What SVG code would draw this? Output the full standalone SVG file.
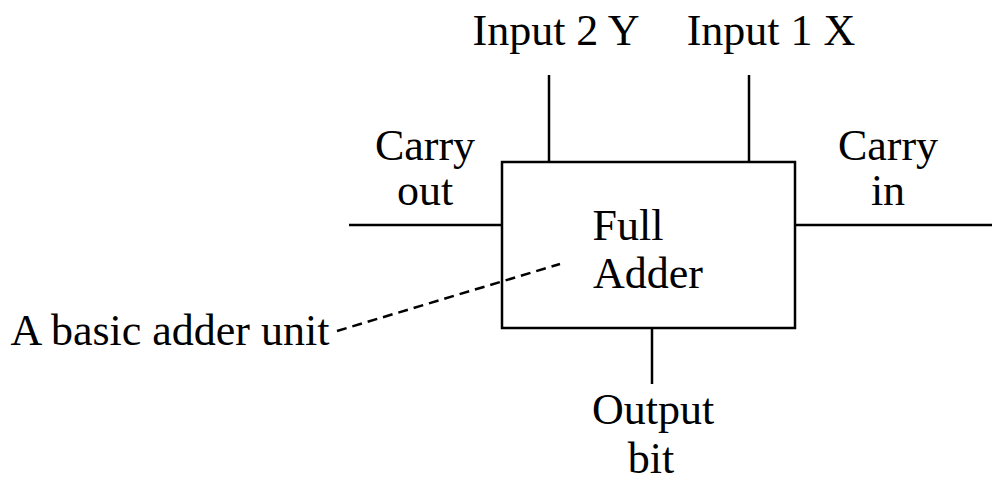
<svg xmlns="http://www.w3.org/2000/svg" width="992" height="482" viewBox="0 0 992 482">
<style>
.t{font-family:"Liberation Serif","Times New Roman",serif;font-size:44px;fill:#000;text-anchor:middle}
.l{stroke:#000;stroke-width:2.5;fill:none}
</style>
<rect width="992" height="482" fill="#fff"/>
<g id="full-adder">
<rect x="502" y="162" width="293" height="166" class="l"/>
<text class="t" x="628" y="240">Full</text>
<text class="t" x="648" y="288">Adder</text>
</g>
<g id="input2"><text class="t" x="556" y="45">Input 2 Y</text></g>
<g id="input1"><text class="t" x="771" y="45">Input 1 X</text></g>
<g id="carry-out"><text class="t" x="425" y="160">Carry</text><text class="t" x="425" y="205">out</text></g>
<g id="carry-in"><text class="t" x="888" y="160">Carry</text><text class="t" x="888" y="205">in</text></g>
<g id="output"><text class="t" x="653" y="424">Output</text><text class="t" x="651" y="473">bit</text></g>
<g id="label"><text class="t" x="170" y="345">A basic adder unit</text></g>
<g id="connectors">
<line class="l" x1="549" y1="75" x2="549" y2="162"/>
<line class="l" x1="749" y1="75" x2="749" y2="162"/>
<line class="l" x1="349" y1="225" x2="502" y2="225"/>
<line class="l" x1="795" y1="225" x2="992" y2="225"/>
<line class="l" x1="652" y1="328" x2="652" y2="384"/>
<line class="l" x1="337" y1="331" x2="560" y2="264" stroke-dasharray="10,6"/>
</g>
</svg>
